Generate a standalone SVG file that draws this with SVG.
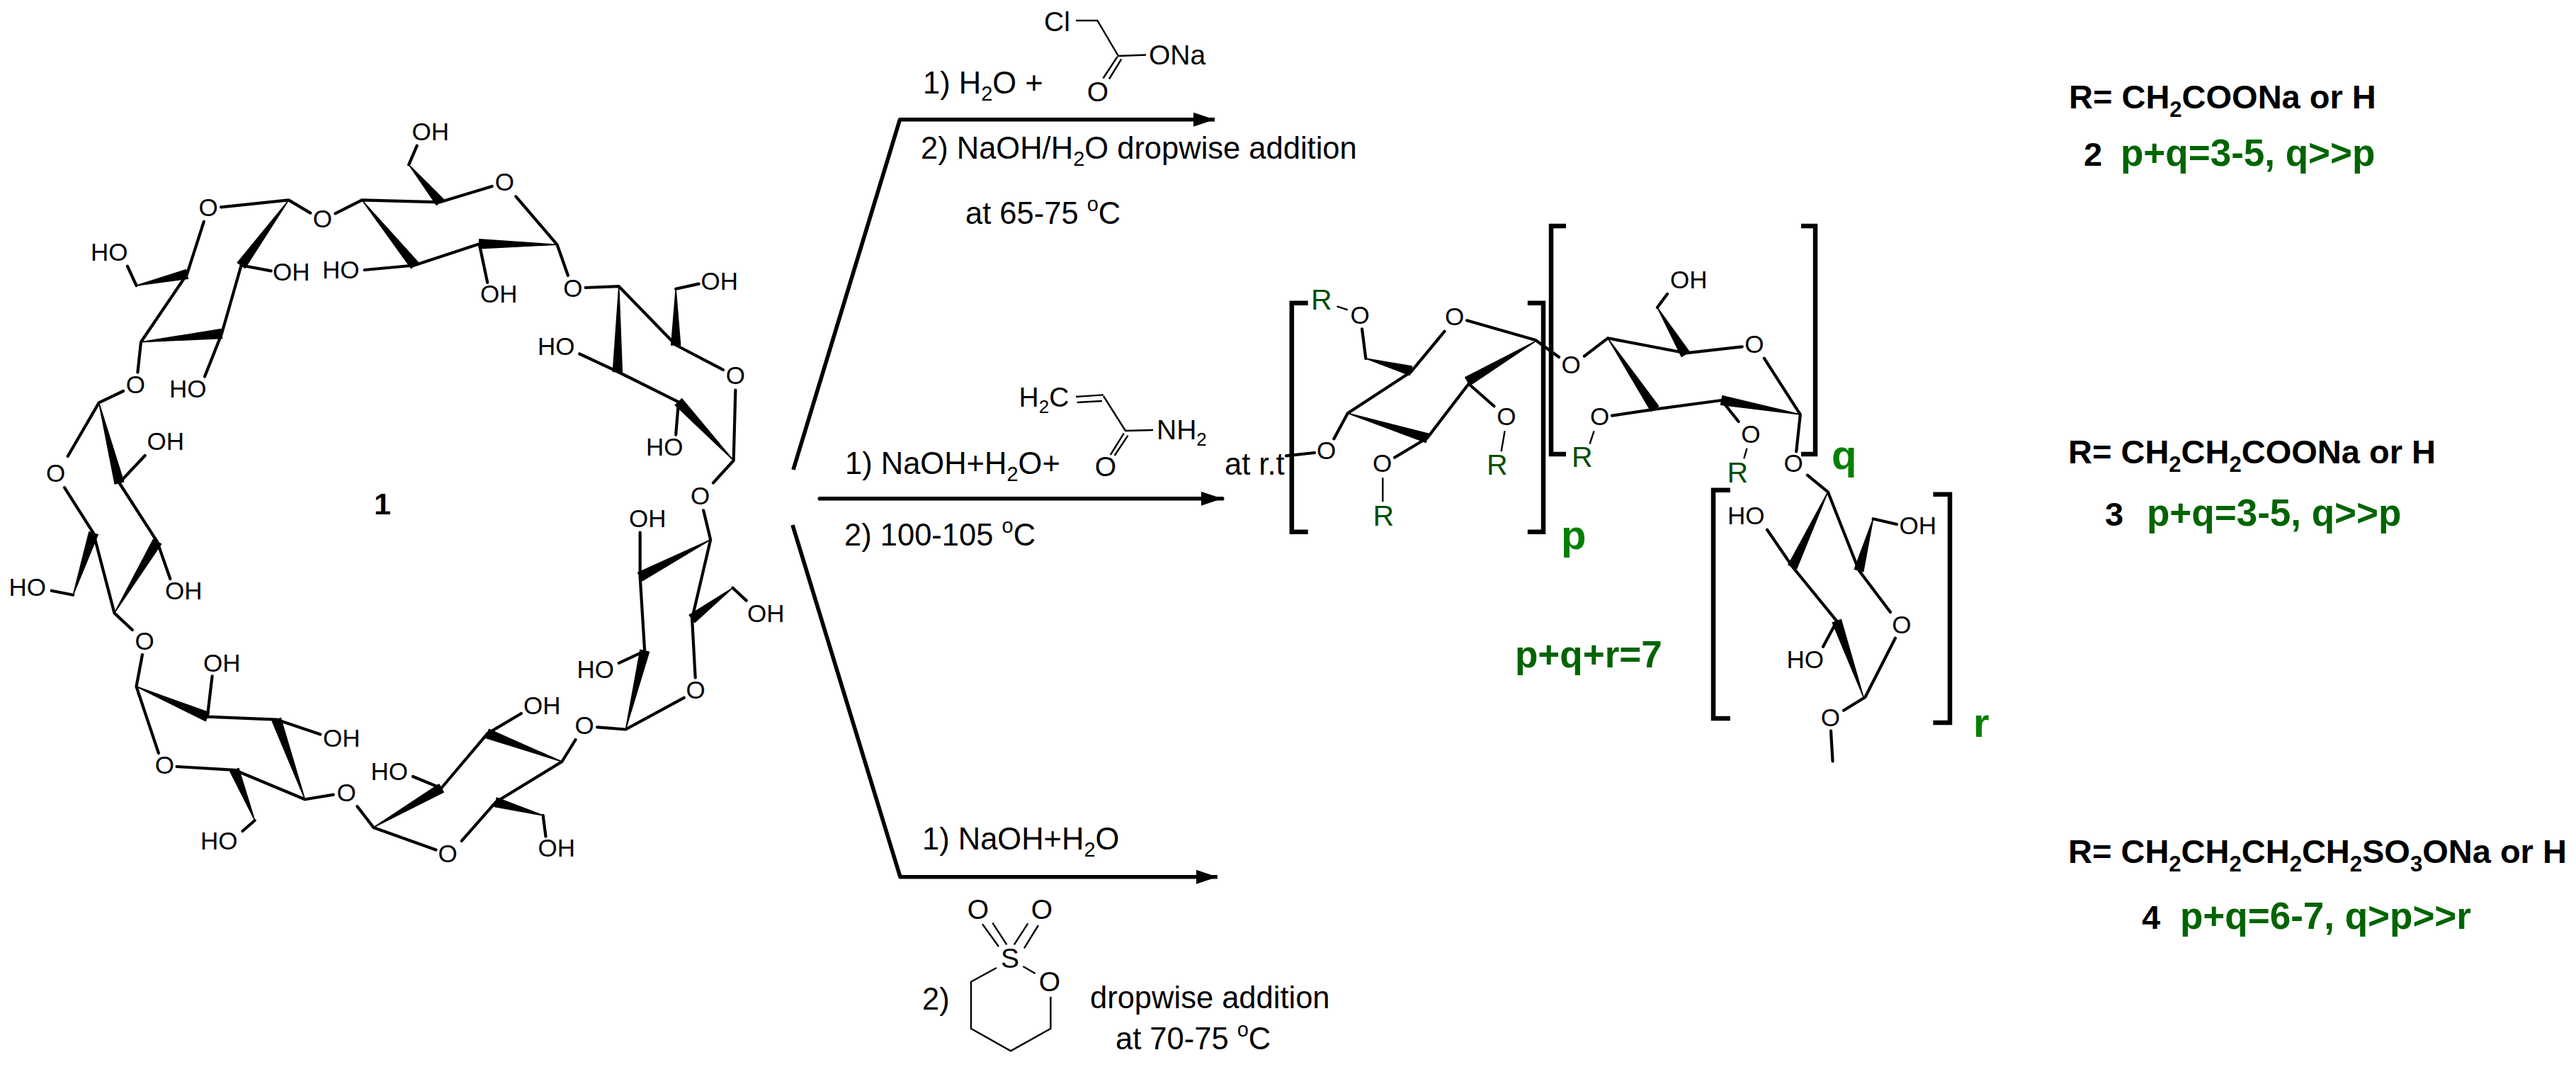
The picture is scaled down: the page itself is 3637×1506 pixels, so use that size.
<svg xmlns="http://www.w3.org/2000/svg" width="3637" height="1506" viewBox="0 0 3637 1506">
<defs>
<marker id="head" markerUnits="userSpaceOnUse" markerWidth="32" markerHeight="20" refX="30" refY="10" orient="auto"><path d="M0 0L30 10L0 20Z" fill="#000"/></marker>
</defs>
<style>
text{font-family:"Liberation Sans",Arial,sans-serif;fill:#000}
.b{fill:none;stroke:#000;stroke-width:4.2;stroke-linecap:round;stroke-linejoin:round}
.t{fill:none;stroke:#000;stroke-width:2.4;stroke-linecap:butt}
.w{fill:#000;stroke:#000;stroke-width:1.4;stroke-linejoin:round}
.k{fill:none;stroke:#000;stroke-width:6.5;stroke-linejoin:miter}
.a{fill:none;stroke:#000;stroke-width:5.6;stroke-linejoin:round}
.l{font-size:35px}
.m{text-anchor:middle}
.s{font-size:39px}
.c{font-size:43.5px}
.r{font-size:41px;fill:#004f00}
.n{font-size:47px;font-weight:700}
.g{font-size:53px;font-weight:700;fill:#006400}
.i{font-size:58px;font-weight:700;fill:#008000}
.bd{font-size:43px;font-weight:700}
</style>
<rect width="3637" height="1506" fill="#fff"/>

<g id="compound-1">
<path class="b" d="M312 292.4L407.6 282.4M287.8 312.8L264 387L199 482.7M340.6 374.5L313 471L289 531.6M340.6 374.5L382.7 382.4M192.5 403L179.9 375.6M199 482.7L194.4 525.5M407.6 282.4L438.2 300.6M473.4 301.3L511 282.4L621.2 285.3L694.7 263M577.2 232.4L588.7 205.7M728.4 277.4L786.6 345.3L801.9 388.8M676.7 344.2L584.9 374.5L514.7 381M676.7 344.2L688.2 398.8M826.7 406L873.8 404.2L954.2 487L1021 522M954.2 407.7L986.7 400.6M818.3 499.5L871.9 524.5L958 567.3L954.2 613.7M1038.4 550.5L1035.7 650L1007 681.5M993.2 720.3L1003.2 761.8L977.1 873.3L981.7 956.3M1034.5 829.8L1053.7 847.6M965.7 984.8L883.4 1029.5L843.2 1026.3M903.7 751.5L903.7 814L910.2 918.8L873.8 935.8M812.6 1044L793.4 1075L699.7 1132.3L651.8 1186.8M688.2 1035.4L736 1007M688.2 1035.4L623 1112.5L583 1096M766.7 1150.9L770.5 1180.5M615.5 1199.5L527.3 1167.9L504.4 1138.2M470.7 1121.6L430.5 1128.3L331 1086.8L249.5 1082M390.3 1015.6L452.3 1036.6M390.3 1015.6L292.8 1011.7L299.6 954.3M201 924L192.5 969L223.9 1063M359.7 1158L342.5 1173M186.8 889L161.5 865.4L132 752.7L91 688.2M103.3 839.7L72.7 833.7M222 764.6L240.3 817M168.4 681.5L222 764.6M168.4 681.5L204.7 643M174 552L139.7 568.4L95.7 644"/>
<polygon class="w" points="407.6,282.4 345.9,378.3 335.3,370.7"/>
<polygon class="w" points="192.5,403 265.4,393.4 262.6,380.6"/>
<polygon class="w" points="199,482.7 313.7,477.5 312.3,464.5"/>
<polygon class="w" points="511,282.4 580.4,378.6 590.6,370.4"/>
<polygon class="w" points="577.2,232.4 616.2,289.4 626.2,281.2"/>
<polygon class="w" points="786.6,345.3 676.7,350.7 676.7,337.7"/>
<polygon class="w" points="873.8,404.2 865.4,524.5 878.4,524.5"/>
<polygon class="w" points="954.2,407.7 947.7,487 960.7,487"/>
<polygon class="w" points="1035.7,650 962.7,562.8 953.3,571.8"/>
<polygon class="w" points="1003.2,761.8 900.7,808.2 906.7,819.8"/>
<polygon class="w" points="1034.5,829.8 973.2,868.1 981,878.5"/>
<polygon class="w" points="883.4,1029.5 916.5,920.3 903.9,917.3"/>
<polygon class="w" points="793.4,1075 690.5,1029.3 685.9,1041.5"/>
<polygon class="w" points="527.3,1167.9 626.3,1118.1 619.7,1106.9"/>
<polygon class="w" points="766.7,1150.9 701.4,1126 698,1138.6"/>
<polygon class="w" points="192.5,969 290.3,1017.7 295.3,1005.7"/>
<polygon class="w" points="430.5,1128.3 396.4,1013.4 384.2,1017.8"/>
<polygon class="w" points="359.7,1158 337,1084.4 325,1089.2"/>
<polygon class="w" points="161.5,865.4 227.6,767.9 216.4,761.3"/>
<polygon class="w" points="103.3,839.7 138.2,754.7 125.8,750.7"/>
<polygon class="w" points="139.7,568.4 162.1,683.1 174.7,679.9"/>
<g class="l">
<text class="l m" x="294" y="305">O</text><text class="l m" x="455.4" y="321">O</text><text class="l m" x="712.3" y="269">O</text><text class="l m" x="808.8" y="418.5">O</text><text class="l m" x="1038.4" y="542.3">O</text><text class="l m" x="988.6" y="711.8">O</text><text class="l m" x="982" y="985.8">O</text><text class="l m" x="825.2" y="1036">O</text><text class="l m" x="632" y="1216.7">O</text><text class="l m" x="489" y="1131">O</text><text class="l m" x="232.3" y="1092.2">O</text><text class="l m" x="204" y="916.5">O</text><text class="l m" x="78.5" y="680.2">O</text><text class="l m" x="191.4" y="554.8">O</text>
<text class="l" x="581.5" y="198">OH</text><text class="l" x="678" y="427.4">OH</text><text class="l" x="455" y="393.4">HO</text><text class="l" x="385" y="396">OH</text><text class="l" x="239" y="561">HO</text><text class="l" x="128" y="367.7">HO</text><text class="l" x="207.5" y="635">OH</text><text class="l" x="989.5" y="408.8">OH</text><text class="l" x="759" y="501.3">HO</text><text class="l" x="912" y="643">HO</text><text class="l" x="1055" y="878">OH</text><text class="l" x="814.5" y="957">HO</text><text class="l" x="888" y="743.6">OH</text><text class="l" x="739" y="1007.7">OH</text><text class="l" x="523.5" y="1100.6">HO</text><text class="l" x="759.5" y="1209.4">OH</text><text class="l" x="456" y="1054">OH</text><text class="l" x="287" y="947.6">OH</text><text class="l" x="283" y="1198.7">HO</text><text class="l" x="233" y="845.6">OH</text><text class="l" x="12.5" y="841">HO</text>
</g>
<text class="bd" x="528" y="726">1</text>
</g>

<g id="connectors">
<path class="a" marker-end="url(#head)" d="M1120 663L1270.5 168.7L1715 168.7"/>
<path class="a" stroke-linecap="round" marker-end="url(#head)" d="M1157.4 703.8L1725.7 703.8"/>
<path class="a" marker-end="url(#head)" d="M1119 741L1271 1237.7L1718.8 1237.7"/>
</g>

<g id="conditions-top">
<text class="c" x="1303" y="131.8">1) H<tspan font-size="29" dy="10">2</tspan><tspan dy="-10">O +</tspan></text>
<text class="c" x="1300" y="224">2) NaOH/H<tspan font-size="29" dy="10">2</tspan><tspan dy="-10">O dropwise addition</tspan></text>
<text class="c" x="1363" y="316">at 65-75 <tspan font-size="29" dy="-18">o</tspan><tspan dy="18">C</tspan></text>
<path class="t" d="M1519 29L1549.4 29L1579 79L1618 77.5M1577.6 80L1557.5 110.5M1583.3 83.4L1566 111.5"/>
<text class="s" x="1474" y="43.6">Cl</text>
<text class="s" x="1622" y="91">ONa</text>
<text class="s m" x="1550" y="143">O</text>
</g>

<g id="conditions-middle">
<text class="c" x="1193" y="669">1) NaOH+H<tspan font-size="29" dy="10">2</tspan><tspan dy="-10">O+</tspan></text>
<text class="c" x="1192" y="770">2) 100-105 <tspan font-size="29" dy="-18">o</tspan><tspan dy="18">C</tspan></text>
<text class="c" x="1729" y="670">at r.t</text>
<path class="t" d="M1519 560L1558 557.4M1520.7 568L1556 566M1558 559L1589 608L1628 607M1586.8 611.7L1567.8 642M1592.5 614.6L1573.6 643"/>
<text class="s" x="1438.5" y="574.4">H<tspan font-size="26" dy="9">2</tspan><tspan dy="-9">C</tspan></text>
<text class="s" x="1633" y="620">NH<tspan font-size="26" dy="9">2</tspan></text>
<text class="s m" x="1561" y="672">O</text>
</g>

<g id="conditions-bottom">
<text class="c" x="1302" y="1199.3">1) NaOH+H<tspan font-size="29" dy="10">2</tspan><tspan dy="-10">O</tspan></text>
<text class="c" x="1302" y="1425">2)</text>
<text class="c" x="1539" y="1423.3">dropwise addition</text>
<text class="c" x="1575" y="1480.7">at 70-75 <tspan font-size="29" dy="-18">o</tspan><tspan dy="18">C</tspan></text>
<path class="t" d="M1387 1304.3L1410 1336M1401.4 1302.7L1421.4 1333.3M1451.3 1303.3L1431.8 1333.3M1466 1306L1446 1338.3M1407 1366L1371 1385.7L1371 1451.7L1427 1483.3L1483.4 1451.7L1483.4 1406.7M1444.4 1364L1461.6 1374"/>
<text class="s m" x="1426" y="1366">S</text>
<text class="s m" x="1381" y="1296.7">O</text>
<text class="s m" x="1471" y="1296.7">O</text>
<text class="s m" x="1482" y="1399">O</text>
</g>

<g id="product">
<path class="k" d="M1846.7 427.7L1823.8 427.7L1823.8 750.7L1846.7 750.7M2156.8 427.7L2179 427.7L2179 750.7L2156.8 750.7M2211 319L2190 319L2190 641L2211 641M2543 319L2563 319L2563 641L2543 641M2442.8 691.7L2419 691.7L2419 1014L2442.8 1014M2729.4 697.7L2753 697.7L2753 1020L2729.4 1020"/>
<path class="b" d="M1923 464.3L1928.3 506M1992 525L2039.5 467.7M2071 452.3L2168 480L2201 504M2073.6 541.7L2015 618.3M2073.6 541.7L2109.4 573.3M1992 525L1902.8 583.3L1883.4 619.3M1816 643.3L1856 639M2015 618.3L1969 645.7M2276 586.7L2336.3 577.7L2430.7 565L2454.6 595M2270 477.3L2236.9 502.7M2270 477.3L2379.7 498.3L2459.7 489.3M2339.9 434L2354 415M2490.8 505.7L2541.8 585L2536.2 637.3M2551.8 670.7L2580.8 694.3L2624.5 805L2669 864M2495 747.7L2530.8 800L2593.3 876.7L2574 912.7M2644.6 732.3L2678 740M2675.9 900.7L2633.4 984L2603 1002.7M2585 1031.7L2587.5 1074.3"/>
<path class="t" d="M1887.5 432.3L1902.8 437.3M2124.6 608.3L2119.6 637.3M1952.3 674.3L1952.3 708.3M2250.6 608.3L2244.5 626.7M2466.4 632.7L2462.3 647.3"/>
<polygon class="w" points="1928.3,506 1990.3,529.6 1993.7,517"/>
<polygon class="w" points="2168,481.7 2068.7,532.7 2075.3,543.9"/>
<polygon class="w" points="1902.8,583.3 2013.1,624.5 2016.9,612.1"/>
<polygon class="w" points="2270,477.3 2330.9,580.3 2341.7,573.1"/>
<polygon class="w" points="2339.9,434 2374.1,503.4 2385.3,496.6"/>
<polygon class="w" points="2541.8,585 2431.9,558.6 2429.5,571.4"/>
<polygon class="w" points="2580.8,694.3 2524.9,797.2 2536.7,802.8"/>
<polygon class="w" points="2644.6,732.3 2618.2,803.3 2630.8,806.7"/>
<polygon class="w" points="2631,984 2599.4,874.5 2587.2,878.9"/>
<text class="l m" x="1920.2" y="456.7">O</text><text class="l m" x="2053.7" y="459">O</text><text class="l m" x="2126.8" y="600">O</text><text class="l m" x="1872.5" y="648.3">O</text><text class="l m" x="1951.5" y="665.7">O</text><text class="l m" x="2258.5" y="600">O</text><text class="l m" x="2218" y="527.3">O</text><text class="l m" x="2476.9" y="498.3">O</text><text class="l m" x="2471.9" y="625">O</text><text class="l m" x="2532" y="665.7">O</text><text class="l m" x="2684.8" y="894">O</text><text class="l m" x="2584.4" y="1025">O</text>
<text class="l" x="2358" y="407.3">OH</text><text class="l" x="2439" y="740">HO</text><text class="l" x="2681.5" y="754">OH</text><text class="l" x="2522.5" y="942.7">HO</text>
<text class="r" x="1851" y="436.7">R</text><text class="r" x="2099" y="670">R</text><text class="r" x="1938.5" y="741.7">R</text><text class="r" x="2219" y="659.3">R</text><text class="r" x="2438.5" y="680.7">R</text>
<text class="i" x="2204" y="775">p</text><text class="i" x="2586" y="662">q</text><text class="i" x="2786" y="1040">r</text>
<text class="g" x="2139" y="941.7">p+q+r=7</text>
</g>

<g id="legend-2">
<text class="n" x="2921" y="152.8">R= CH<tspan font-size="31" dy="12">2</tspan><tspan dy="-12">COONa or H</tspan></text>
<text class="n" x="2942" y="234">2</text>
<text class="g" x="2994" y="234">p+q=3-5, q&gt;&gt;p</text>
</g>
<g id="legend-3">
<text class="n" x="2920" y="653.6">R= CH<tspan font-size="31" dy="12">2</tspan><tspan dy="-12">CH</tspan><tspan font-size="31" dy="12">2</tspan><tspan dy="-12">COONa or H</tspan></text>
<text class="n" x="2972" y="742">3</text>
<text class="g" x="3031" y="742">p+q=3-5, q&gt;&gt;p</text>
</g>
<g id="legend-4">
<text class="n" x="2920" y="1218.3">R= CH<tspan font-size="31" dy="12">2</tspan><tspan dy="-12">CH</tspan><tspan font-size="31" dy="12">2</tspan><tspan dy="-12">CH</tspan><tspan font-size="31" dy="12">2</tspan><tspan dy="-12">CH</tspan><tspan font-size="31" dy="12">2</tspan><tspan dy="-12">SO</tspan><tspan font-size="31" dy="12">3</tspan><tspan dy="-12">ONa or H</tspan></text>
<text class="n" x="3024" y="1310.7">4</text>
<text class="g" x="3078" y="1310.7">p+q=6-7, q&gt;p&gt;&gt;r</text>
</g>
</svg>
